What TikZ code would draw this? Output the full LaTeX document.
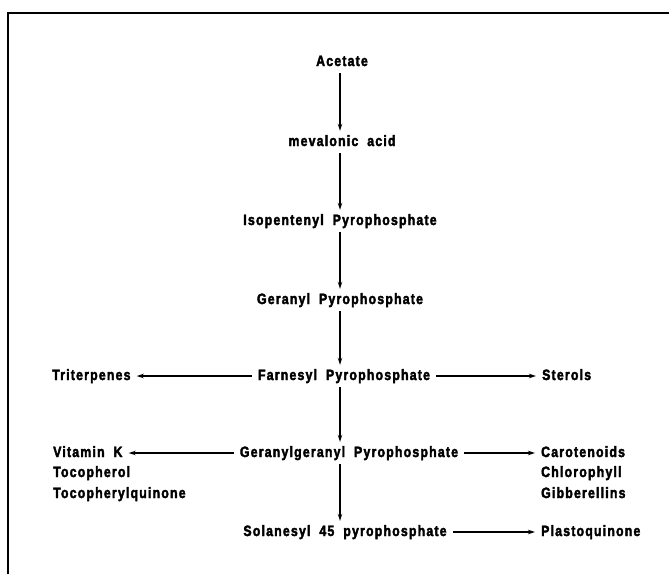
\documentclass[tikz,border=0pt]{standalone}
\usepackage{fontspec}
\setmainfont{Liberation Sans}[FakeStretch=0.82, LetterSpace=8, BoldFeatures={FakeBold=2.5}]
\usetikzlibrary{arrows.meta}
\newcommand{\wsp}{\hspace{0.6em}}
\begin{document}
\begin{tikzpicture}[x=1pt,y=-1pt,
  lbl/.style={font=\fontsize{15}{17}\selectfont\bfseries, inner xsep=6pt, inner ysep=4pt, text height=11pt, text depth=3pt},
  side/.style={lbl, anchor=west},
  arr/.style={-{Stealth[length=7pt,width=4.5pt]}, line width=1.2pt}]
\useasboundingbox (0,0) rectangle (669,574);
\draw[line width=2pt] (8,574) -- (8,13) -- (669,13);
\coordinate (ax) at (340,0);
% main column
\node[lbl] (A) at (342,62) {Acetate};
\node[lbl] (M) at (342,142) {mevalonic\wsp acid};
\node[lbl] (I) at (340,221) {Isopentenyl\wsp Pyrophosphate};
\node[lbl] (G) at (340,300) {Geranyl\wsp Pyrophosphate};
\node[lbl] (F) at (344,376) {Farnesyl\wsp Pyrophosphate};
\node[lbl] (GG) at (349,453) {Geranylgeranyl\wsp Pyrophosphate};
\node[lbl] (S) at (345,532) {Solanesyl\wsp 45\wsp pyrophosphate};
% side products
\node[side] (T) at (46,376) {Triterpenes};
\node[side] (St) at (536,376) {Sterols};
\node[side] (VK) at (47,453) {Vitamin\wsp K};
\node[side] (To) at (47,473) {Tocopherol};
\node[side] (Tq) at (47,494) {Tocopherylquinone};
\node[side] (Ca) at (535,453) {Carotenoids};
\node[side] (Ch) at (535,473) {Chlorophyll};
\node[side] (Gi) at (535,494) {Gibberellins};
\node[side] (P) at (535,532) {Plastoquinone};
% vertical arrows
\draw[arr] (A.south -| ax) -- (M.north -| ax);
\draw[arr] (M.south -| ax) -- (I.north -| ax);
\draw[arr] (I.south -| ax) -- (G.north -| ax);
\draw[arr] (G.south -| ax) -- (F.north -| ax);
\draw[arr] (F.south -| ax) -- (GG.north -| ax);
\draw[arr] (GG.south -| ax) -- (S.north -| ax);
% horizontal arrows
\draw[arr] (F.west) -- (T.east);
\draw[arr] (F.east) -- (St.west);
\draw[arr] (GG.west) -- (VK.east);
\draw[arr] (GG.east) -- (Ca.west);
\draw[arr] (S.east) -- (P.west);
\end{tikzpicture}
\end{document}
